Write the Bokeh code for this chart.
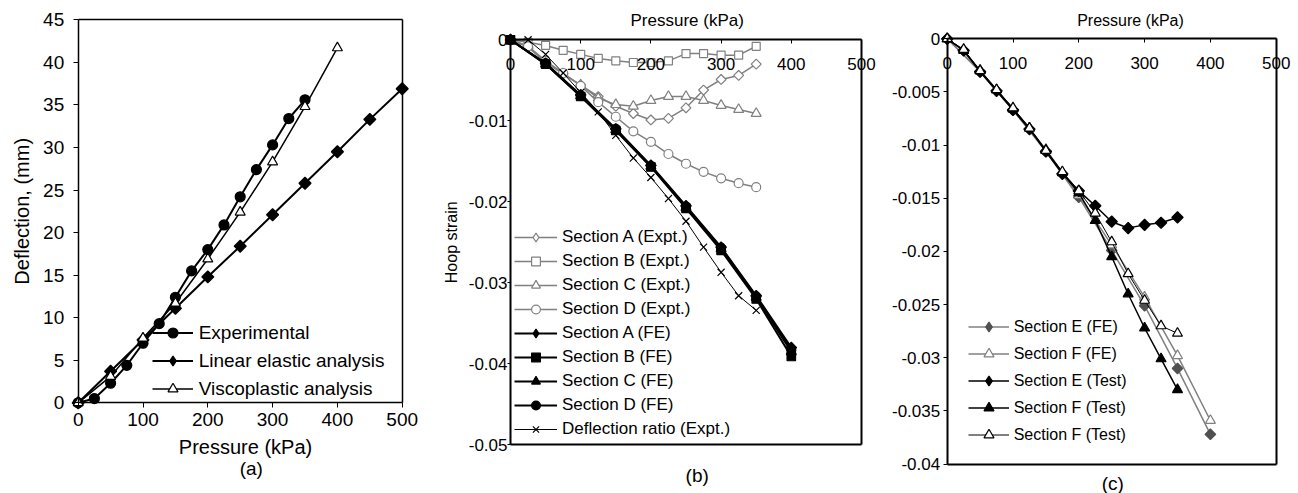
import math
from bokeh.plotting import figure
from bokeh.models import (Range1d, FixedTicker, CustomJSTickFormatter, Legend,
                          LegendItem, LinearAxis, Label)
from bokeh.embed import file_html
from bokeh.resources import INLINE

FONT = "Liberation Sans"
GRAY = "#808080"
DGRAY = "#505050"
BLACK = "#000000"
ROT = math.pi / 4

# ---------------- data: panel (a) ----------------
a_xticks = [0, 100, 200, 300, 400, 500]
a_yticks = [0, 5, 10, 15, 20, 25, 30, 35, 40, 45]
a_exp_p = [0, 25, 50, 75, 100, 125, 150, 175, 200, 225, 250, 275, 300, 325, 350]
a_exp_d = [0, 0.5, 2.3, 4.4, 7.0, 9.3, 12.4, 15.5, 18.0, 20.9, 24.2, 27.4, 30.3, 33.4, 35.6]
a_lin_p = [0, 50, 100, 150, 200, 250, 300, 350, 400, 450, 500]
a_lin_d = [0, 3.7, 7.4, 11.1, 14.8, 18.4, 22.1, 25.8, 29.5, 33.3, 36.9]
a_vis_p = [0, 50, 100, 150, 200, 250, 300, 350, 400]
a_vis_d = [0, 3.1, 7.6, 11.7, 16.9, 22.4, 28.3, 34.8, 41.7]

# ---------------- data: panel (b) ----------------
b_xticks = [0, 100, 200, 300, 400, 500]
b_yticks = [0, -0.01, -0.02, -0.03, -0.04, -0.05]
b_p25 = [0, 25, 50, 75, 100, 125, 150, 175, 200, 225, 250, 275, 300, 325, 350]
b_A_expt = [0, -0.0009, -0.0028, -0.0042, -0.0056, -0.0070, -0.0082, -0.0091, -0.0099,
            -0.0097, -0.0084, -0.0062, -0.0049, -0.0044, -0.0030]
b_B_expt = [0, -0.0003, -0.0007, -0.0013, -0.0018, -0.0023, -0.0026, -0.0028, -0.0028,
            -0.0026, -0.0017, -0.0017, -0.0019, -0.0019, -0.0008]
b_C_expt = [0, -0.0008, -0.0027, -0.0042, -0.0056, -0.0072, -0.0080, -0.0082, -0.0075,
            -0.0070, -0.0070, -0.0075, -0.0081, -0.0086, -0.0091]
b_D_expt = [0, -0.0008, -0.0026, -0.0041, -0.0057, -0.0077, -0.0095, -0.0113, -0.0126,
            -0.0141, -0.0153, -0.0163, -0.0171, -0.0177, -0.0182]
b_p50 = [0, 50, 100, 150, 200, 250, 300, 350, 400]
b_A_fe = [0, -0.0029, -0.0068, -0.0110, -0.0155, -0.0205, -0.0256, -0.0316, -0.0380]
b_B_fe = [0, -0.0030, -0.0070, -0.0112, -0.0157, -0.0208, -0.0260, -0.0320, -0.0391]
b_C_fe = [0, -0.0030, -0.0069, -0.0111, -0.0156, -0.0207, -0.0258, -0.0318, -0.0385]
b_D_fe = [0, -0.0029, -0.0069, -0.0110, -0.0156, -0.0206, -0.0257, -0.0317, -0.0383]
b_defl = [0, 0.0, -0.0018, -0.0041, -0.0065, -0.0089, -0.0118, -0.0146, -0.0170,
          -0.0196, -0.0224, -0.0256, -0.0287, -0.0316, -0.0334]

# ---------------- data: panel (c) ----------------
c_xticks = [0, 100, 200, 300, 400, 500]
c_yticks = [0, -0.005, -0.01, -0.015, -0.02, -0.025, -0.03, -0.035, -0.04]
c_p50 = [0, 50, 100, 150, 200, 250, 300, 350, 400]
c_E_fe = [0, -0.0031, -0.0067, -0.0106, -0.0149, -0.0199, -0.0251, -0.0310, -0.0372]
c_F_fe = [0, -0.0030, -0.0066, -0.0104, -0.0147, -0.0194, -0.0243, -0.0298, -0.0359]
c_p25 = [0, 25, 50, 75, 100, 125, 150, 175, 200, 225, 250, 275, 300, 325, 350]
c_E_test = [0, -0.0011, -0.0031, -0.0049, -0.0067, -0.0085, -0.0106, -0.0127, -0.0143,
            -0.0157, -0.0172, -0.0178, -0.0175, -0.0173, -0.0168]
c_F_test = [0, -0.0011, -0.0030, -0.0048, -0.0066, -0.0084, -0.0105, -0.0126, -0.0145,
            -0.0171, -0.0205, -0.0240, -0.0272, -0.0301, -0.0330]
c_F_test2 = [0, -0.0010, -0.0030, -0.0048, -0.0065, -0.0084, -0.0105, -0.0125, -0.0143,
             -0.0164, -0.0191, -0.0221, -0.0246, -0.0270, -0.0277]

FMT = "return String(Number(tick.toFixed(4)));"

# ---------------- one canvas, three panels ----------------
W, H = 1298, 493


def cx(page_x):
    return page_x


def cy(page_y):
    return H - page_y


def span_range(d0, d1, p0, p1, total):
    scale = (p1 - p0) / (d1 - d0)
    start = d0 - p0 / scale
    return Range1d(start, start + total / scale)


p = figure(width=W, height=H, x_range=Range1d(0, W), y_range=Range1d(0, H),
           x_axis_type=None, y_axis_type=None, title=None,
           output_backend="svg", toolbar_location=None, min_border=0)
p.outline_line_color = None
p.background_fill_color = "white"
p.border_fill_color = "white"

# panel frames in page pixels: (left, right, top, bottom)
FR = {
    "a": (77.7, 401.7, 19.3, 402.3, (0, 500), (0, 45)),
    "b": (510.0, 861.0, 39.3, 444.3, (0, 500), (-0.05, 0)),
    "c": (946.7, 1275.7, 38.3, 463.6, (0, 500), (-0.04, 0)),
}
for k, (l, r, t, b, xd, yd) in FR.items():
    p.extra_x_ranges[k + "x"] = span_range(xd[0], xd[1], cx(l), cx(r), W)
    p.extra_y_ranges[k + "y"] = span_range(yd[0], yd[1], cy(b), cy(t), H)


def axis(k, side, loc, bounds, ticks, fs, tick_out, standoff, lw):
    ax = LinearAxis(x_range_name=k + "x", y_range_name=k + "y",
                    fixed_location=loc, bounds=bounds)
    ax.ticker = FixedTicker(ticks=ticks)
    ax.formatter = CustomJSTickFormatter(code=FMT)
    ax.major_label_text_font = FONT
    ax.major_label_text_font_size = f"{fs}px"
    ax.major_label_text_color = BLACK
    ax.major_tick_out = tick_out
    ax.major_tick_in = 0
    ax.minor_tick_out = 0
    ax.minor_tick_in = 0
    ax.major_label_standoff = standoff
    ax.axis_line_color = BLACK
    ax.axis_line_width = lw
    ax.major_tick_line_color = BLACK
    ax.major_tick_line_width = 1
    p.add_layout(ax, side)
    return ax


def frame_axes(k, xticks, yticks, fs, x_at_top, xo, xs, yo, ys, lw):
    l, r, t, b, xd, yd = FR[k]
    xloc = yd[1] if x_at_top else yd[0]
    other_y = yd[0] if x_at_top else yd[1]
    axis(k, "below", xloc, xd, xticks, fs, xo, xs, lw)
    axis(k, "left", xd[0], yd, yticks, fs, yo, ys, lw)
    axis(k, "above", other_y, xd, [], fs, 0, 0, lw)
    axis(k, "right", xd[1], yd, [], fs, 0, 0, lw)


def series(k, x, y, marker, size, lc, lw, fc, mlc=None, angle=0.0, mlw=1.2):
    rn = dict(x_range_name=k + "x", y_range_name=k + "y")
    l = p.line(x, y, line_color=lc, line_width=lw, **rn)
    s = p.scatter(x, y, marker=marker, size=size, fill_color=fc,
                  line_color=mlc or lc, line_width=mlw, angle=angle, **rn)
    if marker == "square" and angle:
        # legend-only diamond symbol (the legend ignores the rotation)
        d = p.scatter(x, y, marker="diamond", size=size, fill_color=fc,
                      line_color=mlc or lc, line_width=mlw, visible=False, **rn)
        return [l, d]
    return [l, s]


def add_legend(items, x, y, fs, h, spacing, gw, standoff):
    lg = Legend(items=[LegendItem(label=t, renderers=r) for t, r in items],
                location=(x, y), padding=0, margin=0, spacing=spacing,
                label_height=h, glyph_height=h, glyph_width=gw,
                label_standoff=standoff, label_text_font=FONT,
                label_text_font_size=f"{fs}px", label_text_color=BLACK,
                background_fill_alpha=0, border_line_alpha=0)
    p.add_layout(lg)


def text(t, page_x, page_y, fs, angle=0.0):
    p.add_layout(Label(x=cx(page_x), y=cy(page_y), x_units="screen", y_units="screen",
                       text=t, angle=angle, text_font=FONT, text_font_size=f"{fs}px",
                       text_color=BLACK, text_align="center", text_baseline="middle"))


# ======================= panel (a) =======================
frame_axes("a", a_xticks, a_yticks, 19, False, 5, 5, 5, 9, 1.5)
ra1 = series("a", a_exp_p, a_exp_d, "circle", 10, BLACK, 2, BLACK)
ra2 = series("a", a_lin_p, a_lin_d, "square", 8.5, BLACK, 2, BLACK, angle=ROT)
ra3 = series("a", a_vis_p, a_vis_d, "triangle", 10, BLACK, 1.5, "white")
add_legend([("Experimental", ra1), ("Linear elastic analysis", ra2),
            ("Viscoplastic analysis", ra3)], cx(151.7), cy(401.2), 19, 25, 3, 41, 6)
text("Pressure (kPa)", 245, 446.7, 20)
text("Deflection, (mm)", 21, 210.8, 20, angle=math.pi / 2)
text("(a)", 250.8, 468.3, 19)

# ======================= panel (b) =======================
frame_axes("b", b_xticks, b_yticks, 17, True, 4, 14, 3, 0, 2)
rb1 = series("b", b_p25, b_A_expt, "square", 7, GRAY, 1.5, "white", angle=ROT)
rb2 = series("b", b_p25, b_B_expt, "square", 8, GRAY, 1.5, "white")
rb3 = series("b", b_p25, b_C_expt, "triangle", 10, GRAY, 1.5, "white")
rb4 = series("b", b_p25, b_D_expt, "circle", 9, GRAY, 1.5, "white")
rb5 = series("b", b_p50, b_A_fe, "square", 7.5, BLACK, 2, BLACK, angle=ROT)
rb6 = series("b", b_p50, b_B_fe, "square", 8.5, BLACK, 2, BLACK)
rb7 = series("b", b_p50, b_C_fe, "triangle", 10, BLACK, 2, BLACK)
rb8 = series("b", b_p50, b_D_fe, "circle", 9, BLACK, 2, BLACK)
rb9 = series("b", b_p25, b_defl, "x", 10, BLACK, 1, BLACK)
add_legend([("Section A (Expt.)", rb1), ("Section B (Expt.)", rb2),
            ("Section C (Expt.)", rb3), ("Section D (Expt.)", rb4),
            ("Section A (FE)", rb5), ("Section B (FE)", rb6),
            ("Section C (FE)", rb7), ("Section D (FE)", rb8),
            ("Deflection ratio (Expt.)", rb9)], cx(514), cy(439.7), 17, 22, 2, 43, 5)
text("Pressure (kPa)", 686.7, 20, 17)
text("Hoop strain", 450.7, 241.8, 16, angle=math.pi / 2)
text("(b)", 696.7, 475, 19)

# ======================= panel (c) =======================
frame_axes("c", c_xticks, c_yticks, 17, True, 4, 14, 4, 3, 2)
rc1 = series("c", c_p50, c_E_fe, "square", 7.5, GRAY, 1.5, DGRAY, mlc=DGRAY, angle=ROT)
rc2 = series("c", c_p50, c_F_fe, "triangle", 10, GRAY, 1.5, "white")
rc3 = series("c", c_p25, c_E_test, "square", 8, BLACK, 1.5, BLACK, angle=ROT)
rc4 = series("c", c_p25, c_F_test, "triangle", 10, BLACK, 1.5, BLACK)
rc5 = series("c", c_p25, c_F_test2, "triangle", 10, BLACK, 1, "white")
add_legend([("Section E (FE)", rc1), ("Section F (FE)", rc2),
            ("Section E (Test)", rc3), ("Section F (Test)", rc4),
            ("Section F (Test)", rc5)], cx(967.7), cy(447.2), 16, 25, 2, 41, 5)
text("Pressure (kPa)", 1130, 20, 16)
text("(c)", 1112.3, 483, 19)

open("out.html", "w").write(file_html(p, INLINE))
